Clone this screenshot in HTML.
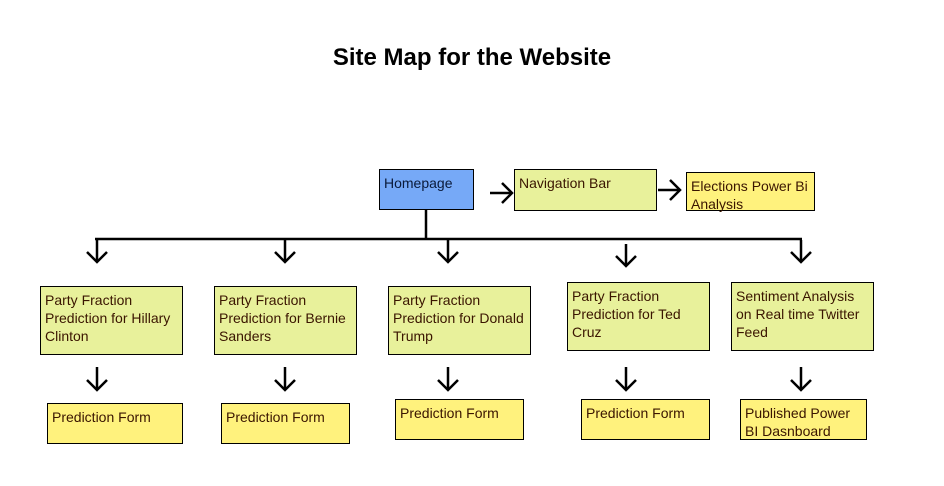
<!DOCTYPE html>
<html><head><meta charset="utf-8"><style>
html,body{margin:0;padding:0;background:#fff;}
body{width:944px;height:486px;position:relative;overflow:hidden;font-family:"Liberation Sans",Arial,sans-serif;}
.t{position:absolute;left:0;width:944px;top:44px;text-align:center;font-weight:bold;font-size:24px;color:#000;}
.b{position:absolute;box-sizing:border-box;border:1px solid #000;font-size:14px;line-height:18px;color:#3a1500;padding:4px 4px 3px 4px;}
.g{background:#e8f19b;}
.y{background:#fff27d;}
.bl{background:#76a9f7;color:#0a1a3a;}
svg{position:absolute;left:0;top:0;}
</style></head><body>
<div class="t">Site Map for the Website</div>
<svg width="944" height="486">
<g stroke="#000" stroke-width="2.5" fill="none">
<line x1="426" y1="209" x2="426" y2="239"/>
<line x1="95" y1="239" x2="802" y2="239"/>
<line x1="490" y1="193" x2="512" y2="193"/><polyline points="502,183 512,193 502,203"/>
<line x1="658" y1="190" x2="680" y2="190"/><polyline points="670,180 680,190 670,200"/>
</g>
<g stroke="#000" stroke-width="2.5" fill="none">
<line x1="97" y1="240" x2="97" y2="262"/><polyline points="87,252 97,262 107,252"/>
<line x1="285" y1="240" x2="285" y2="262"/><polyline points="275,252 285,262 295,252"/>
<line x1="448" y1="240" x2="448" y2="262"/><polyline points="438,252 448,262 458,252"/>
<line x1="626" y1="244" x2="626" y2="266"/><polyline points="616,256 626,266 636,256"/>
<line x1="801" y1="240" x2="801" y2="262"/><polyline points="791,252 801,262 811,252"/>
<line x1="97" y1="367" x2="97" y2="390"/><polyline points="87,380 97,390 107,380"/>
<line x1="285" y1="367" x2="285" y2="390"/><polyline points="275,380 285,390 295,380"/>
<line x1="448" y1="367" x2="448" y2="390"/><polyline points="438,380 448,390 458,380"/>
<line x1="626" y1="367" x2="626" y2="390"/><polyline points="616,380 626,390 636,380"/>
<line x1="801" y1="367" x2="801" y2="390"/><polyline points="791,380 801,390 811,380"/>
</g>
</svg>
<div class="b bl" style="left:379px;top:169px;width:95px;height:41px;">Homepage</div>
<div class="b g" style="left:514px;top:169px;width:143px;height:42px;">Navigation Bar</div>
<div class="b y" style="left:686px;top:172px;width:129px;height:39px;">Elections Power Bi Analysis</div>

<div class="b g" style="left:40px;top:286px;width:143px;height:69px;">Party Fraction Prediction for Hillary Clinton</div>
<div class="b g" style="left:214px;top:286px;width:143px;height:69px;">Party Fraction Prediction for Bernie Sanders</div>
<div class="b g" style="left:388px;top:286px;width:143px;height:69px;">Party Fraction Prediction for Donald Trump</div>
<div class="b g" style="left:567px;top:282px;width:143px;height:69px;">Party Fraction Prediction for Ted Cruz</div>
<div class="b g" style="left:731px;top:282px;width:143px;height:69px;">Sentiment Analysis on Real time Twitter Feed</div>

<div class="b y" style="left:47px;top:403px;width:136px;height:41px;">Prediction Form</div>
<div class="b y" style="left:221px;top:403px;width:129px;height:41px;">Prediction Form</div>
<div class="b y" style="left:395px;top:399px;width:129px;height:41px;">Prediction Form</div>
<div class="b y" style="left:581px;top:399px;width:129px;height:41px;">Prediction Form</div>
<div class="b y" style="left:740px;top:399px;width:127px;height:41px;">Published Power BI Dasnboard</div>
</body></html>
